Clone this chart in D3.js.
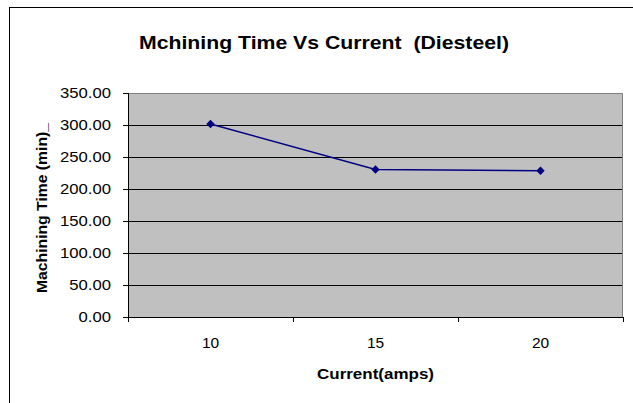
<!DOCTYPE html>
<html>
<head>
<meta charset="utf-8">
<script src="https://cdn.jsdelivr.net/npm/d3@7"></script>
<style>
  body { margin: 0; background: #fff; }
  svg { display: block; font-family: "Liberation Sans", Arial, sans-serif; }
</style>
</head>
<body>
<script>
const currents = ["10", "15", "20"];
const machiningTime = [301.5, 230.5, 228.5];
const yTicks = [0, 50, 100, 150, 200, 250, 300, 350];

const margin = { top: 93, right: 10, bottom: 86, left: 128 },
  width = 623 - margin.left,
  height = 317 - margin.top;

const svg = d3
  .select("body")
  .append("svg")
  .attr("width", 633)
  .attr("height", 403);

// outer chart frame
svg
  .append("rect")
  .attr("x", 9.5)
  .attr("y", 7.5)
  .attr("width", 660)
  .attr("height", 440)
  .attr("fill", "#fff")
  .attr("stroke", "#000")
  .attr("stroke-width", 1);

svg
  .append("text")
  .attr("x", 324)
  .attr("y", 49)
  .attr("text-anchor", "middle")
  .attr("xml:space", "preserve")
  .attr("textLength", 370)
  .attr("lengthAdjust", "spacingAndGlyphs")
  .style("font-size", "18px")
  .style("font-weight", "bold")
  .text("Mchining Time Vs Current  (Diesteel)");

const g = svg
  .append("g")
  .attr("transform", `translate(${margin.left}, ${margin.top})`);

const x = d3.scaleBand().domain(currents).range([0, width]);
const y = d3.scaleLinear().domain([0, 350]).range([height, 0]);

g.append("rect")
  .attr("width", width)
  .attr("height", height)
  .attr("fill", "#c0c0c0");

// grid lines
g.selectAll(".grid")
  .data(yTicks.filter(d => d > 0 && d < 350))
  .enter()
  .append("line")
  .attr("class", "grid")
  .attr("x1", 0)
  .attr("x2", width)
  .attr("y1", d => Math.round(y(d)) + 0.5)
  .attr("y2", d => Math.round(y(d)) + 0.5)
  .attr("stroke", "#000")
  .attr("stroke-width", 1);

// gray plot border top/right
g.append("path")
  .attr("d", `M0,0.5H${width - 0.5}V${height}`)
  .attr("fill", "none")
  .attr("stroke", "#808080")
  .attr("stroke-width", 1);

const yAxis = d3
  .axisLeft(y)
  .tickValues(yTicks)
  .tickSize(5)
  .tickPadding(12)
  .tickFormat(d3.format(".2f"));

g.append("g")
  .attr("class", "y axis")
  .call(yAxis)
  .call(a => a.select(".domain").attr("d", `M0.5,0V${height + 5}`))
  .call(a => a.selectAll("text")
    .style("font-size", "15px")
    .attr("fill", "#000")
    .each(function() {
      // labels in the original are slightly wider than the font
      d3.select(this)
        .attr("textLength", this.getComputedTextLength() * 1.11)
        .attr("lengthAdjust", "spacingAndGlyphs");
    }));

const xAxis = d3.axisBottom(x).tickSize(0).tickPadding(20);

g.append("g")
  .attr("class", "x axis")
  .attr("transform", `translate(0, ${height})`)
  .call(xAxis)
  .call(a => a.select(".domain").attr("d", `M0,0.5H${width}`))
  .call(a => a.selectAll("text").style("font-size", "15.5px").attr("fill", "#000"));

// category boundary ticks
g.selectAll(".xtick")
  .data(d3.range(currents.length + 1))
  .enter()
  .append("line")
  .attr("class", "xtick")
  .attr("x1", i => Math.round(i * x.step()) + 0.5)
  .attr("x2", i => Math.round(i * x.step()) + 0.5)
  .attr("y1", height)
  .attr("y2", height + 5)
  .attr("stroke", "#000");

const data = currents.map((c, i) => ({ c: c, v: machiningTime[i] }));

const line = d3
  .line()
  .x(d => x(d.c) + x.bandwidth() / 2)
  .y(d => y(d.v));

g.append("path")
  .datum(data)
  .attr("d", line)
  .attr("fill", "none")
  .attr("stroke", "#000080")
  .attr("stroke-width", 1.5);

g.selectAll(".dot")
  .data(data)
  .enter()
  .append("path")
  .attr("class", "dot")
  .attr("d", d3.symbol().type(d3.symbolDiamond2).size(45))
  .attr("transform", d => `translate(${x(d.c) + x.bandwidth() / 2}, ${y(d.v)})`)
  .attr("fill", "#000080");

svg
  .append("text")
  .attr("x", margin.left + width / 2)
  .attr("y", 379)
  .attr("text-anchor", "middle")
  .attr("textLength", 117)
  .attr("lengthAdjust", "spacingAndGlyphs")
  .style("font-size", "15px")
  .style("font-weight", "bold")
  .text("Current(amps)");

svg
  .append("text")
  .attr("transform", "translate(47, 208) rotate(-90)")
  .attr("text-anchor", "middle")
  .attr("textLength", 170)
  .attr("lengthAdjust", "spacingAndGlyphs")
  .style("font-size", "15px")
  .style("font-weight", "bold")
  .text("Machining Time (min)_");
</script>
</body>
</html>
